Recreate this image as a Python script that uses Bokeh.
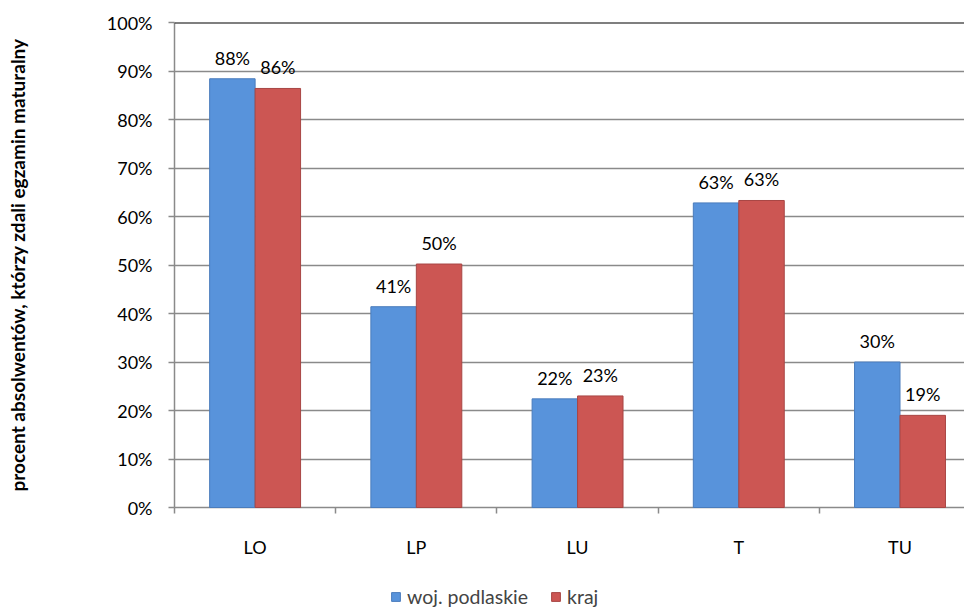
from bokeh.plotting import figure
from bokeh.layouts import column
from bokeh.models import (ColumnDataSource, Range1d, FixedTicker, LabelSet, Legend,
                          LegendItem, Span, NumeralTickFormatter)
from bokeh.core.properties import value
from bokeh.embed import file_html
from bokeh.resources import INLINE

categories = ["LO", "LP", "LU", "T", "TU"]
woj_podlaskie = [88.4, 41.4, 22.4, 62.8, 30.0]
kraj = [86.4, 50.2, 23.0, 63.3, 19.0]
y_ticks = [0, 10, 20, 30, 40, 50, 60, 70, 80, 90, 100]
series_names = ["woj. podlaskie", "kraj"]

FONT = "Lato"
BLUE = "#5893DB"
RED = "#CC5653"
BLUE_EDGE = "#4A7CBC"
RED_EDGE = "#A84644"
GRID = "#8A8A8A"

n = len(categories)
centers = [i + 0.5 for i in range(n)]
off = 0.141
bw = 0.282

src_b = ColumnDataSource(dict(x=[c - off for c in centers], top=[v / 100 for v in woj_podlaskie],
                              lab=[f"{round(v)}%" for v in woj_podlaskie]))
src_r = ColumnDataSource(dict(x=[c + off for c in centers], top=[v / 100 for v in kraj],
                              lab=[f"{round(v)}%" for v in kraj]))

p = figure(width=964, height=584, output_backend="svg", toolbar_location=None,
           x_range=Range1d(0, 4.9), y_range=Range1d(0, 1.0),
           min_border_left=174, min_border_right=0, min_border_top=22, min_border_bottom=77)
p.outline_line_color = None
p.background_fill_color = "white"

# bars
rb = p.vbar(x="x", top="top", width=bw, source=src_b, fill_color=BLUE,
            line_color=BLUE_EDGE, line_width=1)
rr = p.vbar(x="x", top="top", width=bw, source=src_r, fill_color=RED,
            line_color=RED_EDGE, line_width=1)
rb.level = "overlay"
rr.level = "overlay"

# data labels
for s in (src_b, src_r):
    p.add_layout(LabelSet(x="x", y="top", text="lab", source=s, text_align="center",
                          text_baseline="middle", y_offset=21, text_font=value(FONT),
                          text_font_size=value("18px"), text_color=value("black")))

# top border line
p.add_layout(Span(location=y_ticks[-1] / 100, dimension="width", line_color="black", line_width=2))

# x axis
xa = p.xaxis[0]
xa.ticker = FixedTicker(ticks=centers, minor_ticks=list(range(n)))
xa.major_label_overrides = {c: lab for c, lab in zip(centers, categories)}
xa.major_tick_line_color = None
xa.minor_tick_line_color = GRID
xa.minor_tick_in = 0
xa.minor_tick_out = 6
xa.minor_tick_line_width = 1.5
xa.axis_line_color = GRID
xa.axis_line_width = 1.5
xa.major_label_standoff = 22
xa.major_label_text_font = FONT
xa.major_label_text_font_size = "18px"
xa.major_label_text_color = "black"

# y axis
ya = p.yaxis[0]
ya.ticker = FixedTicker(ticks=[t / 100 for t in y_ticks], minor_ticks=[])
ya.formatter = NumeralTickFormatter(format="0%")
ya.major_tick_in = 0
ya.major_tick_out = 6
ya.major_tick_line_color = GRID
ya.major_tick_line_width = 1.5
ya.minor_tick_line_color = None
ya.axis_line_color = GRID
ya.axis_line_width = 1.5
ya.major_label_standoff = 16
ya.major_label_text_font = FONT
ya.major_label_text_font_size = "18px"
ya.major_label_text_color = "black"
ya.axis_label = "procent absolwentów, którzy zdali egzamin maturalny"
ya.axis_label_text_font = FONT
ya.axis_label_text_font_style = "bold"
ya.axis_label_text_font_size = "19px"
ya.axis_label_text_color = "black"
ya.axis_label_standoff = 75

p.xgrid.visible = False
p.ygrid.ticker = FixedTicker(ticks=[t / 100 for t in y_ticks[:-1]])
p.ygrid.grid_line_color = GRID
p.ygrid.grid_line_width = 1.5

# legend strip below the chart (its frame is aligned with the chart's frame)
lg = figure(width=964, height=24, output_backend="svg", toolbar_location=None,
            x_range=Range1d(0, 4.9), y_range=Range1d(2, 3),
            x_axis_location=None, y_axis_location=None,
            min_border_left=174, min_border_right=0, min_border_top=0, min_border_bottom=0)
lg.outline_line_color = None
lg.xgrid.visible = False
lg.ygrid.visible = False
lb = lg.vbar(x="x", top="top", width=bw, source=src_b, fill_color=BLUE, line_color=BLUE_EDGE)
lr = lg.vbar(x="x", top="top", width=bw, source=src_r, fill_color=RED, line_color=RED_EDGE)
legend = Legend(items=[LegendItem(label=series_names[0], renderers=[lb]),
                       LegendItem(label=series_names[1], renderers=[lr])],
                orientation="horizontal", location=(216, 0),
                label_text_font=FONT, label_text_font_size="19.5px",
                glyph_width=11, glyph_height=11, label_standoff=6, spacing=22,
                border_line_color=None, background_fill_alpha=0,
                padding=2, margin=0, label_height=20)
lg.add_layout(legend, "center")

layout = column(p, lg, spacing=0)
open("out.html", "w").write(file_html(layout, INLINE))
